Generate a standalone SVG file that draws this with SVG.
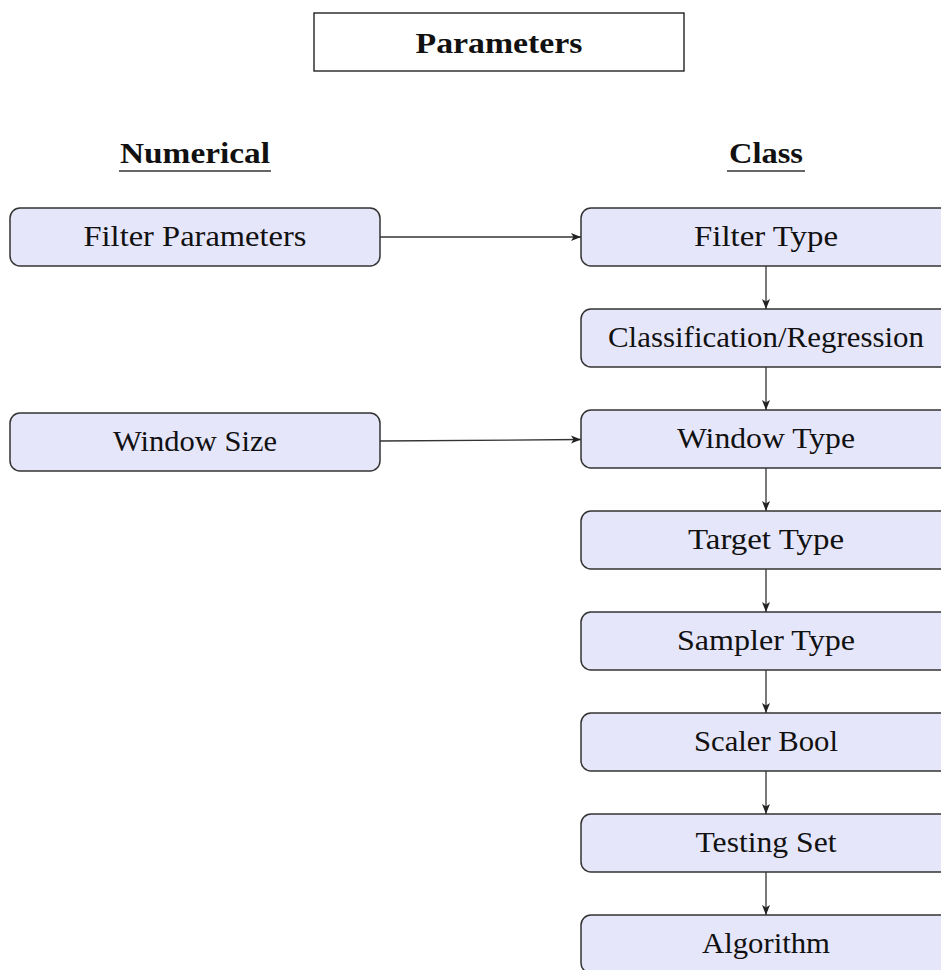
<svg xmlns="http://www.w3.org/2000/svg" width="941" height="970" viewBox="0 0 941 970">
<style>
.node{fill:#e6e6fa;stroke:#333;stroke-width:1.5}
.t{font-family:"Liberation Serif","Times New Roman",serif;font-size:30px;fill:#111;text-anchor:middle}
.b{font-weight:bold}
.c{stroke:#333;stroke-width:1.3;fill:none;marker-end:url(#ah)}
.u{stroke:#333;stroke-width:1.5}
</style>
<defs>
<marker id="ah" markerUnits="userSpaceOnUse" markerWidth="11" markerHeight="9" refX="10" refY="4.5" orient="auto">
<path d="M0,0.5 L10,4.5 L0,8.5 L2.5,4.5 z" fill="#222"/>
</marker>
</defs>
<rect width="941" height="970" fill="#fff"/>
<g id="title">
<rect x="314" y="13" width="370" height="58" fill="#fff" stroke="#111" stroke-width="1.3"/>
<text class="t b" x="499" y="53" textLength="167" lengthAdjust="spacingAndGlyphs">Parameters</text>
</g>
<g id="heading-numerical">
<text class="t b" x="195" y="163" textLength="150" lengthAdjust="spacingAndGlyphs">Numerical</text>
<line class="u" x1="119" y1="171" x2="271" y2="171"/>
</g>
<g id="heading-class">
<text class="t b" x="766" y="163" textLength="74" lengthAdjust="spacingAndGlyphs">Class</text>
<line class="u" x1="727" y1="171" x2="805" y2="171"/>
</g>
<g id="filter-parameters">
<rect class="node" x="10" y="208" width="370" height="58" rx="10"/>
<text class="t" x="195" y="246" textLength="223" lengthAdjust="spacingAndGlyphs">Filter Parameters</text>
</g>
<g id="window-size">
<rect class="node" x="10" y="413" width="370" height="58" rx="10"/>
<text class="t" x="195" y="451" textLength="164" lengthAdjust="spacingAndGlyphs">Window Size</text>
</g>
<g id="filter-type">
<rect class="node" x="581" y="208" width="370" height="58" rx="10"/>
<text class="t" x="766" y="246" textLength="144" lengthAdjust="spacingAndGlyphs">Filter Type</text>
</g>
<g id="classification-regression">
<rect class="node" x="581" y="309" width="370" height="58" rx="10"/>
<text class="t" x="766" y="347" textLength="316" lengthAdjust="spacingAndGlyphs">Classification/Regression</text>
</g>
<g id="window-type">
<rect class="node" x="581" y="410" width="370" height="58" rx="10"/>
<text class="t" x="766" y="448" textLength="178" lengthAdjust="spacingAndGlyphs">Window Type</text>
</g>
<g id="target-type">
<rect class="node" x="581" y="511" width="370" height="58" rx="10"/>
<text class="t" x="766" y="549" textLength="156" lengthAdjust="spacingAndGlyphs">Target Type</text>
</g>
<g id="sampler-type">
<rect class="node" x="581" y="612" width="370" height="58" rx="10"/>
<text class="t" x="766" y="650" textLength="178" lengthAdjust="spacingAndGlyphs">Sampler Type</text>
</g>
<g id="scaler-bool">
<rect class="node" x="581" y="713" width="370" height="58" rx="10"/>
<text class="t" x="766" y="751" textLength="144" lengthAdjust="spacingAndGlyphs">Scaler Bool</text>
</g>
<g id="testing-set">
<rect class="node" x="581" y="814" width="370" height="58" rx="10"/>
<text class="t" x="766" y="852" textLength="141" lengthAdjust="spacingAndGlyphs">Testing Set</text>
</g>
<g id="algorithm">
<rect class="node" x="581" y="915" width="370" height="58" rx="10"/>
<text class="t" x="766" y="953" textLength="128" lengthAdjust="spacingAndGlyphs">Algorithm</text>
</g>
<g id="connectors">
<line class="c" x1="380" y1="237" x2="581" y2="237"/>
<line class="c" x1="380" y1="441" x2="581" y2="439.5"/>
<line class="c" x1="766" y1="266" x2="766" y2="309"/>
<line class="c" x1="766" y1="367" x2="766" y2="410"/>
<line class="c" x1="766" y1="468" x2="766" y2="511"/>
<line class="c" x1="766" y1="569" x2="766" y2="612"/>
<line class="c" x1="766" y1="670" x2="766" y2="713"/>
<line class="c" x1="766" y1="771" x2="766" y2="814"/>
<line class="c" x1="766" y1="872" x2="766" y2="915"/>
</g>
</svg>
